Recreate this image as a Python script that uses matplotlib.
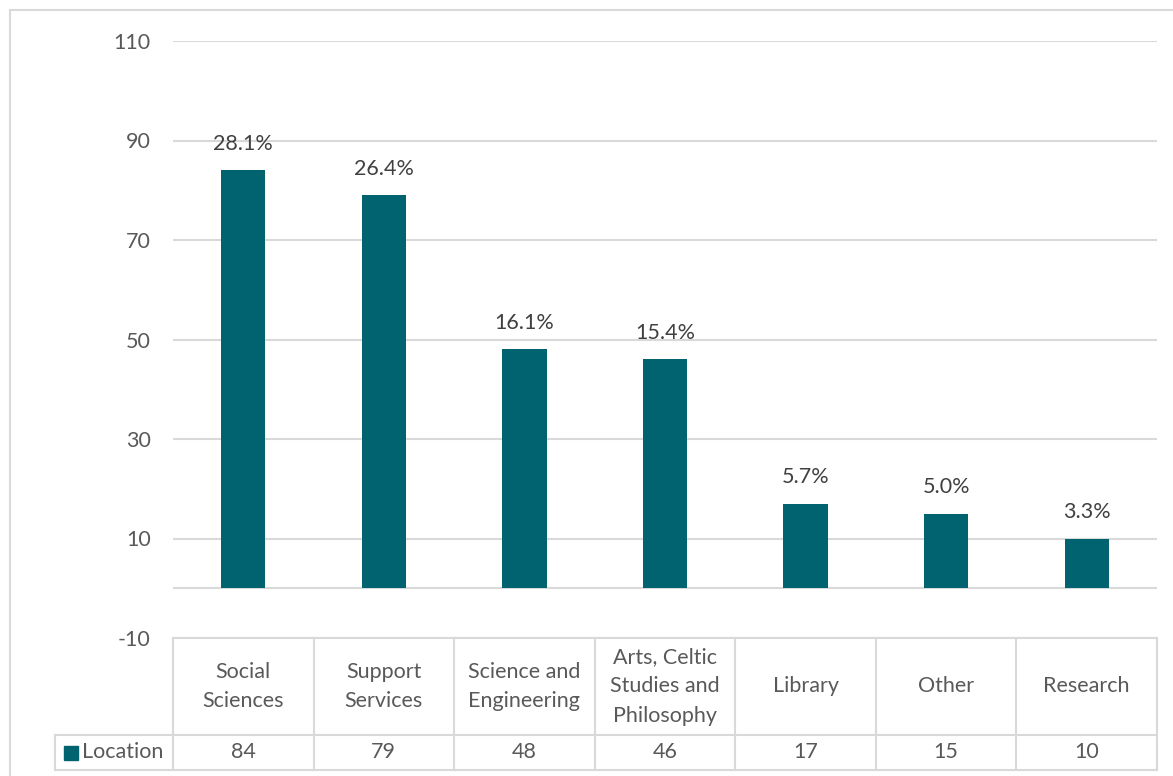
import matplotlib.pyplot as plt
from matplotlib.lines import Line2D
from matplotlib.patches import Rectangle

categories = ["Social\nSciences", "Support\nServices", "Science and\nEngineering",
              "Arts, Celtic\nStudies and\nPhilosophy", "Library", "Other", "Research"]
counts = [84, 79, 48, 46, 17, 15, 10]
series_name = "Location"
yticks = [-10, 10, 30, 50, 70, 90, 110]

teal = "#00636F"
grid = "#D9D9D9"
txt = "#595959"
plt.rcParams['font.family'] = ['Lato', 'DejaVu Sans']
plt.rcParams['axes.unicode_minus'] = False
fs = 15.5

W, H = 1173, 776
fig = plt.figure(figsize=(W / 100, H / 100), dpi=100)

def fx(px):
    return px / W

def fy(py):
    return 1 - py / H

# chart frame (left and top edges visible)
fig.add_artist(Line2D([fx(10), fx(10)], [fy(10), 0], color=grid, lw=1.5))
fig.add_artist(Line2D([fx(10), 1], [fy(10), fy(10)], color=grid, lw=1.5))

# plot area
ax = fig.add_axes([fx(173), fy(638), fx(1157) - fx(173), fy(41) - fy(638)])
n = len(counts)
xs = list(range(n))
ax.bar(xs, counts, width=0.315, color=teal, zorder=3)
ax.set_xlim(-0.5, n - 0.5)
ax.set_ylim(-10, 110)
ax.set_yticks(yticks)
for t in yticks + [0]:
    ax.axhline(t, color=grid, lw=1.5, zorder=1)
ax.tick_params(axis='y', length=0, pad=16, labelsize=fs, labelcolor=txt)
ax.set_xticks([])
for s in ax.spines.values():
    s.set_visible(False)

total = sum(counts)
for x, v in zip(xs, counts):
    ax.annotate(f"{v / total * 100:.1f}%", (x, v), xytext=(0, 12),
                textcoords="offset points", ha="center", va="bottom",
                fontsize=fs, color="#404040")

# data table under the plot
x0 = -0.5 - (173 - 55) / ((1157 - 173) / n)
tab = fig.add_axes([fx(55), fy(770), fx(1157) - fx(55), fy(638) - fy(770)])
tab.set_xlim(x0, n - 0.5)
tab.set_ylim(0, 132)
tab.axis("off")
row = 35
lk = dict(color=grid, lw=1.5, clip_on=False)
tab.plot([x0, n - 0.5], [0, 0], **lk)
tab.plot([x0, n - 0.5], [row, row], **lk)
tab.plot([-0.5, n - 0.5], [132, 132], **lk)
tab.plot([x0, x0], [0, row], **lk)
for b in range(n + 1):
    tab.plot([b - 0.5, b - 0.5], [0, 132], **lk)

for x, (c, v) in enumerate(zip(categories, counts)):
    tab.text(x, row + (132 - row) / 2, c, ha="center", va="center",
             fontsize=fs, color=txt, linespacing=1.6)
    tab.text(x, row / 2, str(v), ha="center", va="center", fontsize=fs, color=txt)

unit = (1157 - 173) / n
tab.add_patch(Rectangle((x0 + (64 - 55) / unit, row / 2 - 7), 14 / unit, 14,
                        color=teal, clip_on=False))
tab.text(x0 + (82 - 55) / unit, row / 2, series_name, ha="left",
         va="center", fontsize=fs, color=txt)

fig.savefig("out.png", dpi=100)
